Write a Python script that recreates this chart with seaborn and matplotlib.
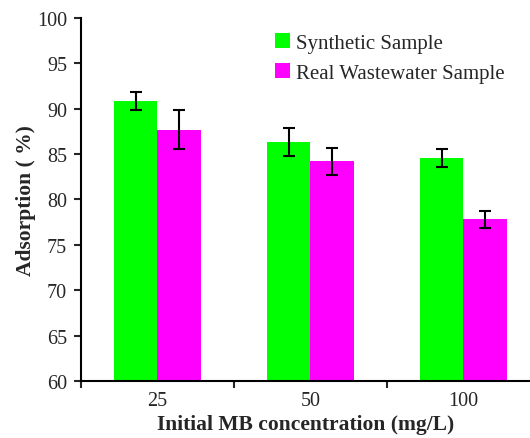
import matplotlib
matplotlib.use("Agg")
import matplotlib.pyplot as plt
import seaborn as sns
import pandas as pd
import numpy as np

categories = ["25", "50", "100"]
series_names = ["Synthetic Sample", "Real Wastewater Sample"]
synthetic = [90.9, 86.3, 84.6]
synthetic_err = [1.0, 1.55, 1.0]
real = [87.7, 84.2, 77.8]
real_err = [2.15, 1.45, 0.9]
colors = ["#00FF00", "#FF00FF"]

sns.set_style("white")
plt.rcParams["font.family"] = ["Liberation Serif", "DejaVu Serif"]

df = pd.DataFrame({
    "conc": categories * 2,
    "val": synthetic + real,
    "err": synthetic_err + real_err,
    "series": [series_names[0]] * 3 + [series_names[1]] * 3,
})

fig = plt.figure(figsize=(5.30, 4.39), dpi=100)
ax = fig.add_axes([81 / 530, (439 - 382) / 439, (530 - 81) / 530, (382 - 19) / 439])

sns.barplot(data=df, x="conc", y="val", hue="series", order=categories,
            hue_order=series_names, palette=colors, saturation=1,
            errorbar=None, width=0.57, ax=ax, linewidth=0, legend=True)

# error bars at bar centres
for cont, errs in zip(ax.containers, [synthetic_err, real_err]):
    xs = [p.get_x() + p.get_width() / 2 for p in cont.patches]
    ys = [p.get_height() for p in cont.patches]
    ax.errorbar(xs, ys, yerr=errs, fmt="none", ecolor="black",
                elinewidth=1.5, capsize=4.5, capthick=1.5, zorder=5)

ax.set_ylim(60, 100)
ax.set_xlim(-0.5, 2.435)
ax.set_yticks(np.arange(60, 101, 5))
ax.set_xticks([0, 1, 2])
ax.set_xticklabels(categories)
ax.set_xticks([-0.5, 0.5, 1.5], minor=True)
ax.tick_params(axis="x", which="major", length=0, pad=7, labelsize=14.5)
ax.tick_params(axis="x", which="minor", length=5, width=1.5, direction="out", bottom=True)
ax.tick_params(axis="y", which="major", length=5, width=1.5, direction="out", left=True, labelsize=14.5, pad=5)

for s in ["top", "right"]:
    ax.spines[s].set_visible(False)
for s in ["left", "bottom"]:
    ax.spines[s].set_linewidth(1.5)
    ax.spines[s].set_color("black")

ax.set_xlabel("Initial MB concentration (mg/L)", fontsize=15.5, fontweight="bold", labelpad=3)
ax.set_ylabel("Adsorption ( %)", fontsize=15.5, fontweight="bold", labelpad=1)

handles, labels = ax.get_legend_handles_labels()
ax.legend(handles, labels, loc="upper left", bbox_to_anchor=(267 / 530, 1 - 26 / 439),
          bbox_transform=fig.transFigure, frameon=False, fontsize=15,
          handlelength=0.7, handleheight=0.7, handletextpad=0.3, labelspacing=0.5,
          borderaxespad=0)

fig.savefig("out.png", dpi=100)
